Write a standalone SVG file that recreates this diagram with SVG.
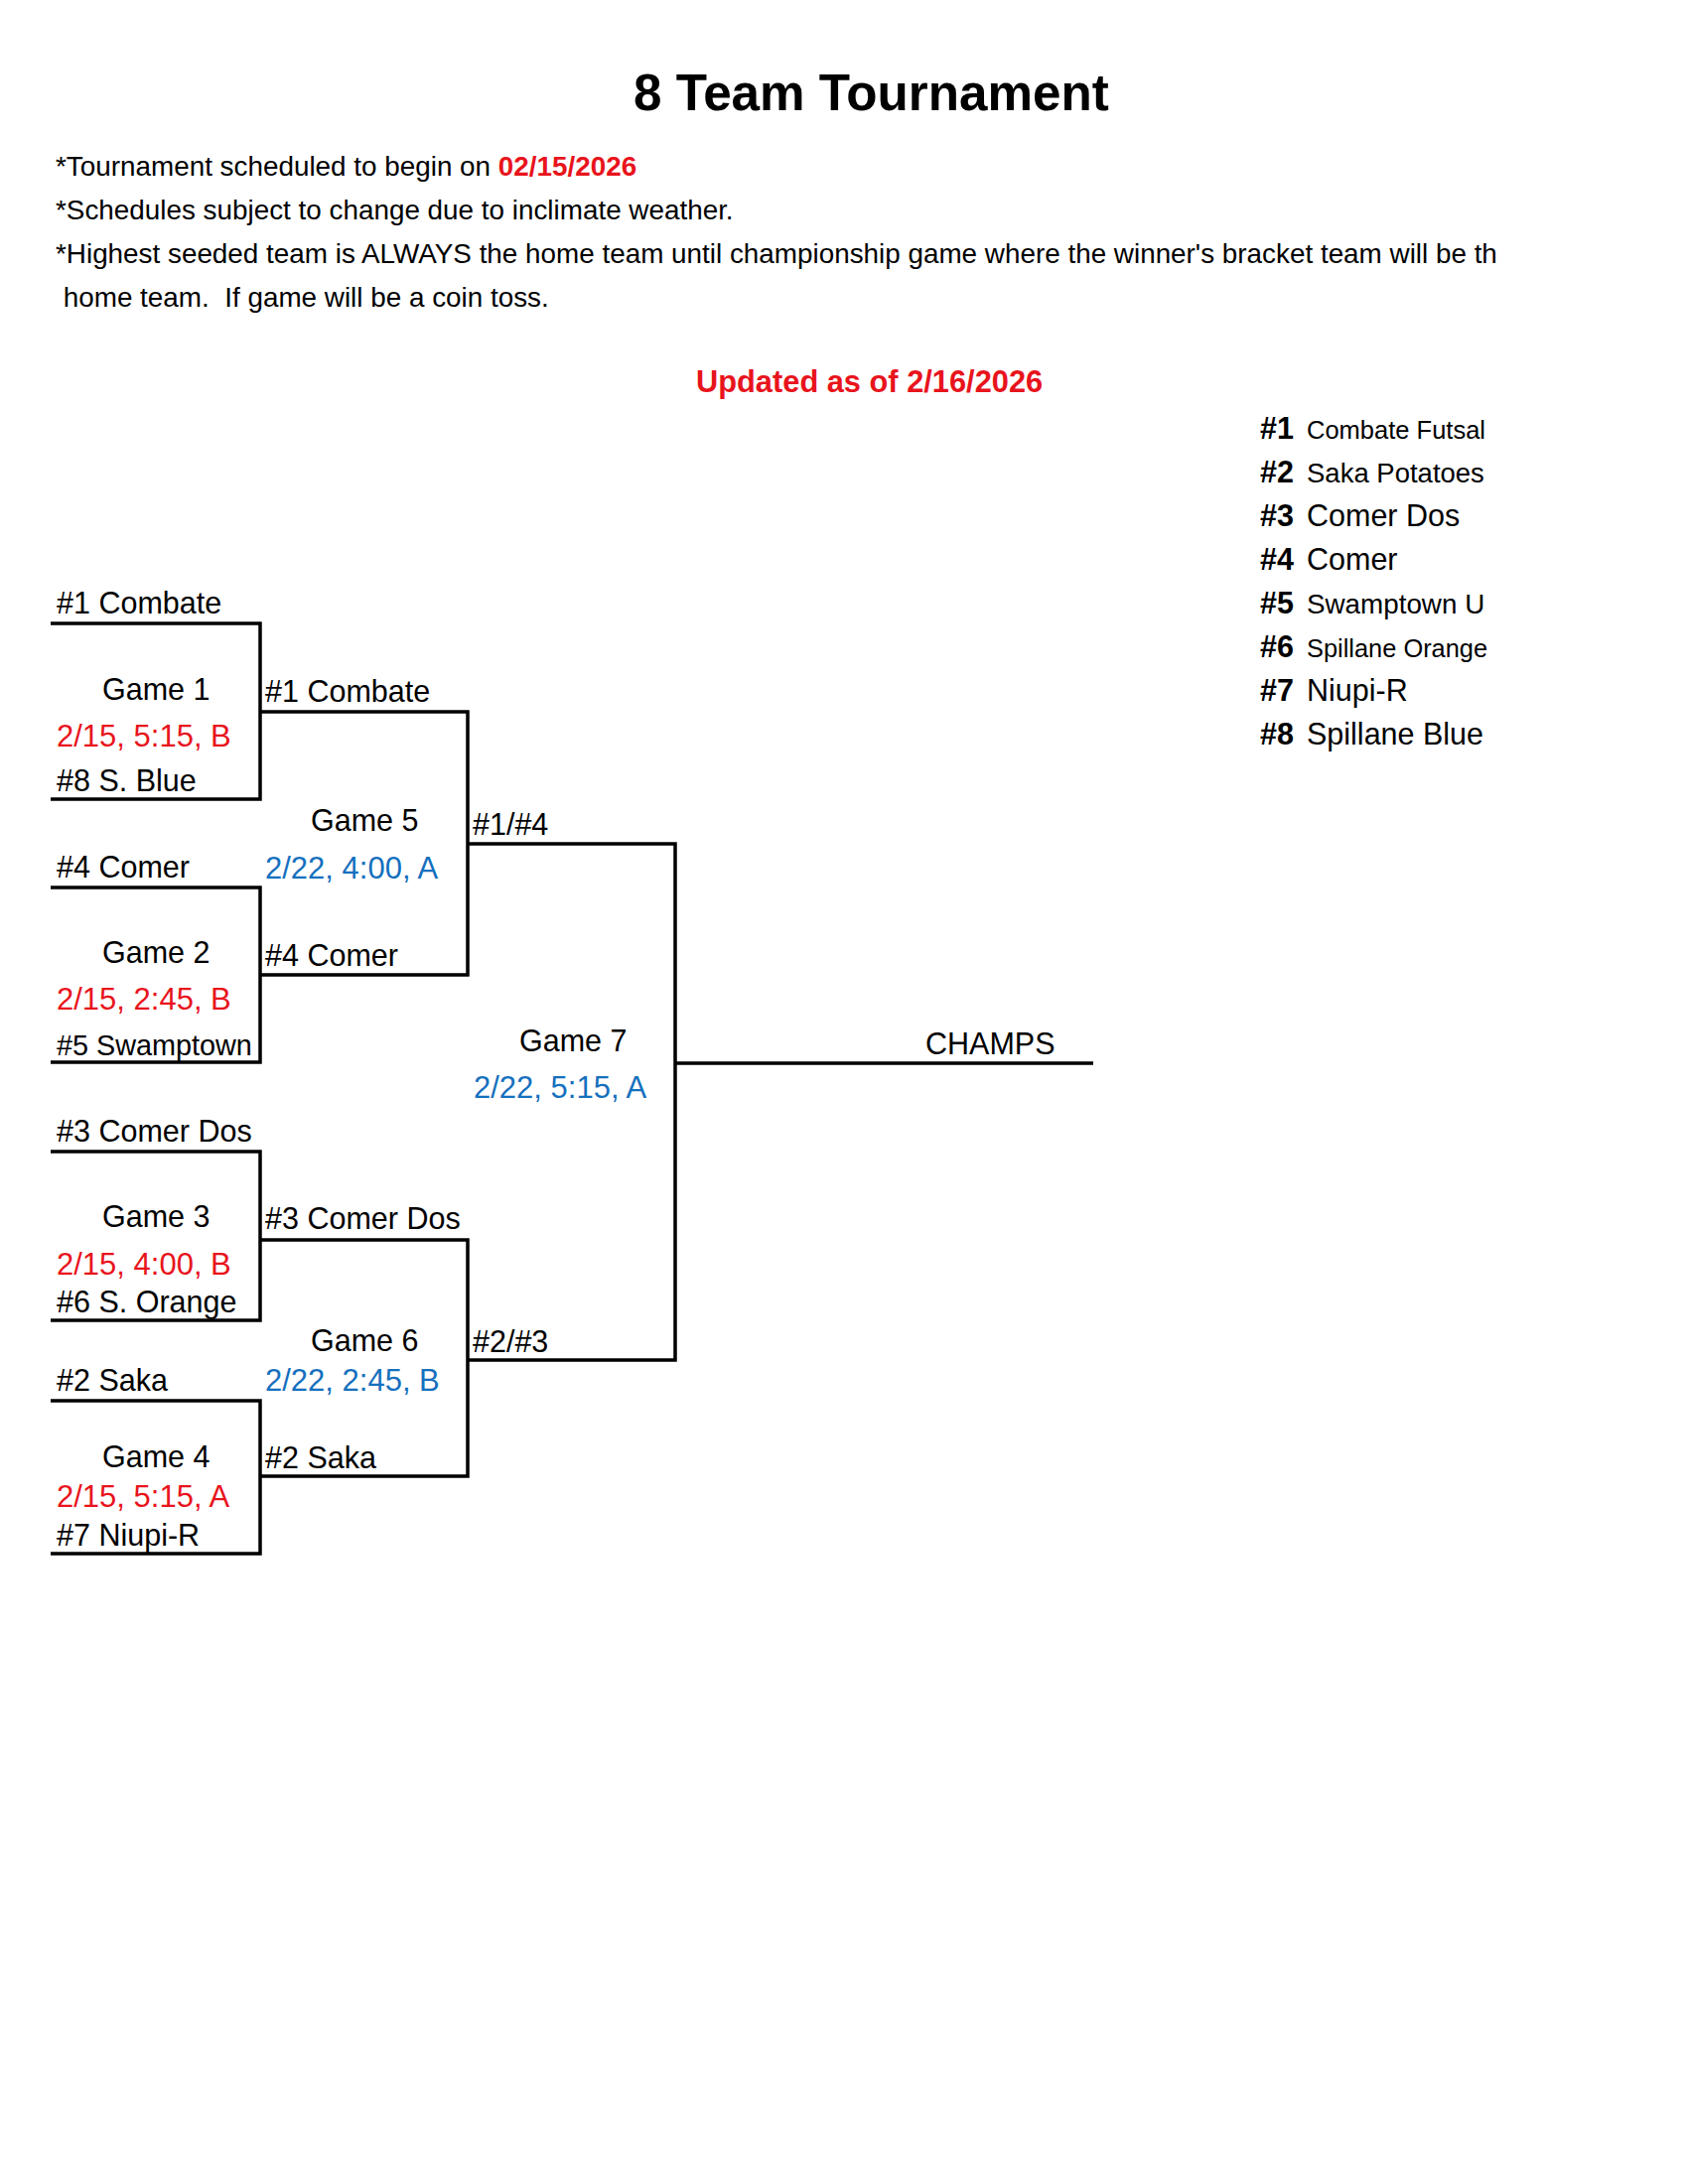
<svg xmlns="http://www.w3.org/2000/svg" width="1700" height="2200" viewBox="0 0 1700 2200">
<style>
text{font-family:"Liberation Sans",Arial,sans-serif;fill:#000;white-space:pre}
.t{font-size:30.5px}
.d{font-size:31px}
.r{fill:#E8141C}
.b{fill:#1570BE}
.h{font-size:27.85px}
.bd{font-weight:bold}
.ln{fill:none;stroke:#000;stroke-width:3.5;stroke-linejoin:miter;stroke-linecap:butt}
</style>
<rect width="1700" height="2200" fill="#fff"/>
<g id="header">
<text x="638" y="111" font-size="51.2" class="bd">8 Team Tournament</text>
<text x="56" y="177" class="h">*Tournament scheduled to begin on <tspan class="bd r">02/15/2026</tspan></text>
<text x="56" y="221" class="h">*Schedules subject to change due to inclimate weather.</text>
<text x="56" y="265" class="h">*Highest seeded team is ALWAYS the home team until championship game where the winner's bracket team will be th</text>
<text x="56" y="309" class="h"> home team.  If game will be a coin toss.</text>
<text x="701" y="395" font-size="30.8" class="bd r">Updated as of 2/16/2026</text>
</g>
<g id="legend">
<text x="1269" y="442" class="t bd">#1</text><text x="1316" y="442" font-size="25.5">Combate Futsal</text>
<text x="1269" y="486" class="t bd">#2</text><text x="1316" y="486" font-size="27.5">Saka Potatoes</text>
<text x="1269" y="530" class="t bd">#3</text><text x="1316" y="530" class="t">Comer Dos</text>
<text x="1269" y="574" class="t bd">#4</text><text x="1316" y="574" class="t">Comer</text>
<text x="1269" y="618" class="t bd">#5</text><text x="1316" y="618" font-size="27.8">Swamptown U</text>
<text x="1269" y="662" class="t bd">#6</text><text x="1316" y="662" font-size="25.4">Spillane Orange</text>
<text x="1269" y="706" class="t bd">#7</text><text x="1316" y="706" class="t">Niupi-R</text>
<text x="1269" y="750" class="t bd">#8</text><text x="1316" y="750" class="t">Spillane Blue</text>
</g>
<g id="connectors" class="ln">
<path class="ln" d="M51 628 H262 V805 H51"/>
<path class="ln" d="M51 894 H262 V1070 H51"/>
<path class="ln" d="M51 1160 H262 V1330 H51"/>
<path class="ln" d="M51 1411 H262 V1565 H51"/>
<path class="ln" d="M262 717 H471 V982 H262"/>
<path class="ln" d="M262 1249 H471 V1487 H262"/>
<path class="ln" d="M471 850 H680 V1370 H471"/>
<path class="ln" d="M680 1071 H1101"/>
</g>
<g id="game1">
<text x="57" y="618" class="t">#1 Combate</text>
<text x="103" y="705" class="t">Game 1</text>
<text x="57" y="752" class="d r">2/15, 5:15, B</text>
<text x="57" y="797" class="t">#8 S. Blue</text>
</g>
<g id="game2">
<text x="57" y="884" class="t">#4 Comer</text>
<text x="103" y="970" class="t">Game 2</text>
<text x="57" y="1017" class="d r">2/15, 2:45, B</text>
<text x="57" y="1063" font-size="28.8">#5 Swamptown</text>
</g>
<g id="game3">
<text x="57" y="1150" class="t">#3 Comer Dos</text>
<text x="103" y="1236" class="t">Game 3</text>
<text x="57" y="1284" class="d r">2/15, 4:00, B</text>
<text x="57" y="1322" class="t">#6 S. Orange</text>
</g>
<g id="game4">
<text x="57" y="1401" class="t">#2 Saka</text>
<text x="103" y="1478" class="t">Game 4</text>
<text x="57" y="1518" class="d r">2/15, 5:15, A</text>
<text x="57" y="1557" class="t">#7 Niupi-R</text>
</g>
<g id="game5">
<text x="267" y="707" class="t">#1 Combate</text>
<text x="313" y="837" class="t">Game 5</text>
<text x="267" y="885" class="d b">2/22, 4:00, A</text>
<text x="267" y="973" class="t">#4 Comer</text>
</g>
<g id="game6">
<text x="267" y="1238" class="t">#3 Comer Dos</text>
<text x="313" y="1361" class="t">Game 6</text>
<text x="267" y="1401" class="d b">2/22, 2:45, B</text>
<text x="267" y="1479" class="t">#2 Saka</text>
</g>
<g id="game7">
<text x="476" y="841" class="t">#1/#4</text>
<text x="523" y="1059" class="t">Game 7</text>
<text x="477" y="1106" class="d b">2/22, 5:15, A</text>
<text x="476" y="1362" class="t">#2/#3</text>
</g>
<g id="champs">
<text x="932" y="1062" class="t">CHAMPS</text>
</g>
</svg>
